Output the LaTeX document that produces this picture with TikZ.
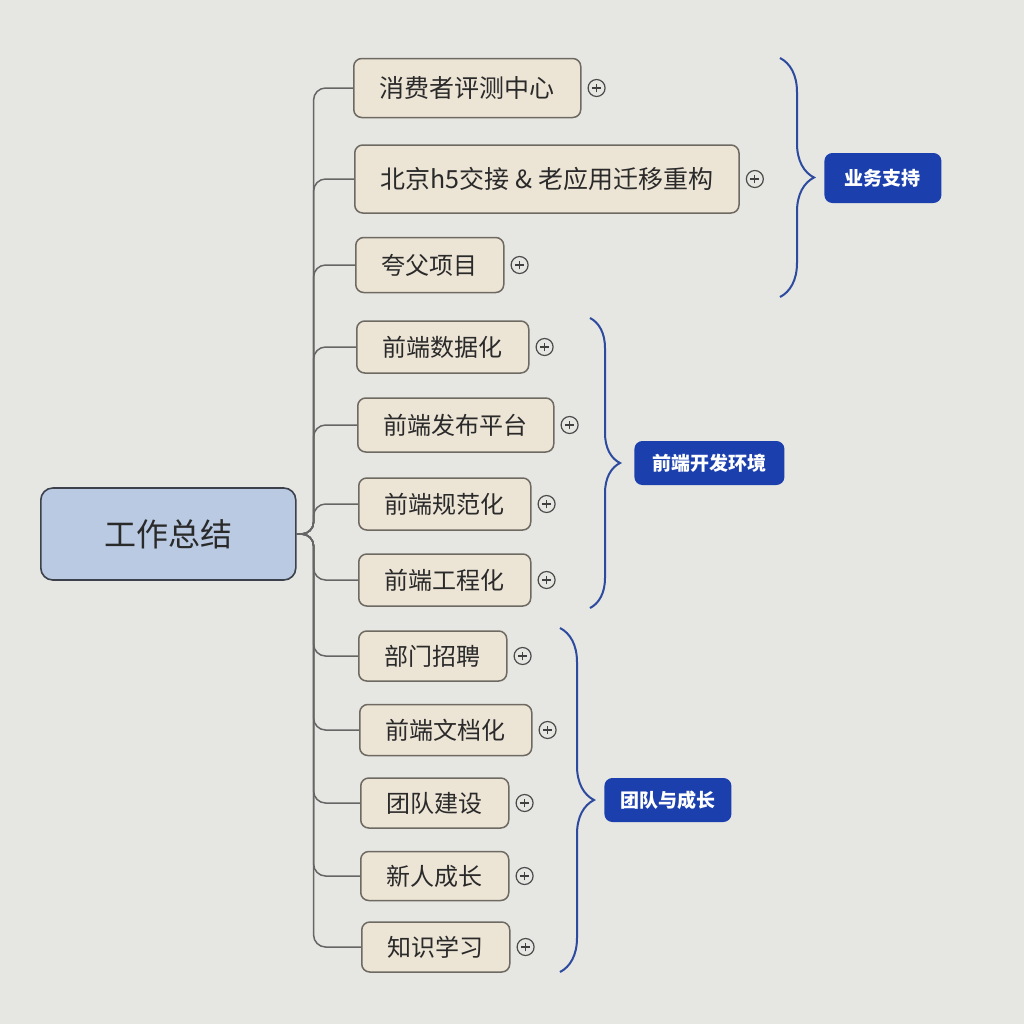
\documentclass[tikz,border=0pt]{standalone}
\usepackage{fontspec}
\newfontfamily\cjk{Noto Sans CJK SC}
\usetikzlibrary{positioning,decorations.pathreplacing}

\definecolor{screen}{HTML}{E6E6E3}
\definecolor{topicfill}{HTML}{ECE4D5}
\definecolor{topicline}{HTML}{6E6A62}
\definecolor{rootfill}{HTML}{B9CAE2}
\definecolor{rootline}{HTML}{3C414B}
\definecolor{ink}{HTML}{2A2A2A}
\definecolor{bracecol}{HTML}{2C4A9E}
\definecolor{groupfill}{HTML}{1C3FAE}

\begin{document}
\begin{tikzpicture}[
  x=0.5pt, y=-0.5pt,
  central/.style={draw=rootline, fill=rootfill, line width=0.8pt,
    rounded corners=6pt, anchor=west, minimum width=127.5pt,
    minimum height=46pt, text=ink, font=\cjk\fontsize{16}{18}\selectfont},
  topic/.style={draw=topicline, fill=topicfill, line width=0.75pt,
    rounded corners=4pt, anchor=west, minimum height=26pt,
    inner xsep=13pt, text=ink, font=\cjk\fontsize{12}{14}\selectfont},
  wide/.style={font=\cjk\fontsize{12.5}{14}\selectfont},
  expander/.style={circle, draw=black!70, line width=0.6pt,
    minimum size=8.5pt, inner sep=0pt,
    path picture={\draw[black!75, line width=0.6pt]
      ([xshift=-2.2pt]path picture bounding box.center) --
      ([xshift=2.2pt]path picture bounding box.center)
      ([yshift=-2.2pt]path picture bounding box.center) --
      ([yshift=2.2pt]path picture bounding box.center);}},
  branch/.style={draw=black!60, line width=0.75pt, rounded corners=6pt},
  groupbrace/.style={decorate, decoration={brace, amplitude=#1},
    draw=bracecol, line width=1pt},
  summary/.style={fill=groupfill, rounded corners=4pt, text=white,
    minimum height=22pt, font=\cjk\bfseries\fontsize{9.5}{11}\selectfont}
]
\useasboundingbox[fill=screen] (0,0) rectangle (1024,1024);

% central topic
\node[central] (root) at (40,534) {工作总结};

% subtopics
\node[topic, wide, minimum height=29.5pt] (review) at (353,88) {消费者评测中心};
\node[topic, wide, minimum height=34pt] (handover) at (354,179) {北京h5交接 \& 老应用迁移重构};
\node[topic, minimum height=27.5pt] (kuafu) at (355,265) {夸父项目};
\node[topic] (data) at (356,347) {前端数据化};
\node[topic, minimum height=27pt] (publish) at (357,425) {前端发布平台};
\node[topic] (norms) at (358,504) {前端规范化};
\node[topic] (eng) at (358,580) {前端工程化};
\node[topic, minimum height=25pt] (hiring) at (358,656) {部门招聘};
\node[topic, minimum height=25.5pt] (docs) at (359,730) {前端文档化};
\node[topic, minimum height=25pt] (team) at (360,803) {团队建设};
\node[topic, minimum height=24.5pt] (newcomer) at (360,876) {新人成长};
\node[topic, minimum height=25pt] (study) at (361,947) {知识学习};

% collapse markers
\node[expander, right=3pt of review] (review-x) {};
\node[expander, right=3pt of handover] (handover-x) {};
\node[expander, right=3pt of kuafu] (kuafu-x) {};
\node[expander, right=3pt of data] (data-x) {};
\node[expander, right=3pt of publish] (publish-x) {};
\node[expander, right=3pt of norms] (norms-x) {};
\node[expander, right=3pt of eng] (eng-x) {};
\node[expander, right=3pt of hiring] (hiring-x) {};
\node[expander, right=3pt of docs] (docs-x) {};
\node[expander, right=3pt of team] (team-x) {};
\node[expander, right=3pt of newcomer] (newcomer-x) {};
\node[expander, right=3pt of study] (study-x) {};

% branches
\draw[branch] (root.east) -- ++(17,0) |- (review.west);
\draw[branch] (root.east) -- ++(17,0) |- (handover.west);
\draw[branch] (root.east) -- ++(17,0) |- (kuafu.west);
\draw[branch] (root.east) -- ++(17,0) |- (data.west);
\draw[branch] (root.east) -- ++(17,0) |- (publish.west);
\draw[branch] (root.east) -- ++(17,0) |- (norms.west);
\draw[branch] (root.east) -- ++(17,0) |- (eng.west);
\draw[branch] (root.east) -- ++(17,0) |- (hiring.west);
\draw[branch] (root.east) -- ++(17,0) |- (docs.west);
\draw[branch] (root.east) -- ++(17,0) |- (team.west);
\draw[branch] (root.east) -- ++(17,0) |- (newcomer.west);
\draw[branch] (root.east) -- ++(17,0) |- (study.west);

% summaries
\coordinate (biz-top) at (780,58);
\coordinate (biz-bot) at (780,297);
\coordinate (biz-tip) at (815,178);
\draw[groupbrace=17pt] (biz-top) -- (biz-bot);
\node[summary, minimum width=58.5pt, minimum height=25pt, right=4.5pt of biz-tip] (biz) {业务支持};

\coordinate (env-top) at (590,318);
\coordinate (env-bot) at (590,608);
\coordinate (env-tip) at (620,463);
\draw[groupbrace=15pt] (env-top) -- (env-bot);
\node[summary, minimum width=75pt, right=7pt of env-tip] (env) {前端开发环境};

\coordinate (grow-top) at (560,628);
\coordinate (grow-bot) at (560,972);
\coordinate (grow-tip) at (595,800);
\draw[groupbrace=17pt] (grow-top) -- (grow-bot);
\node[summary, minimum width=63.5pt, right=4.5pt of grow-tip] (grow) {团队与成长};
\end{tikzpicture}
\end{document}
